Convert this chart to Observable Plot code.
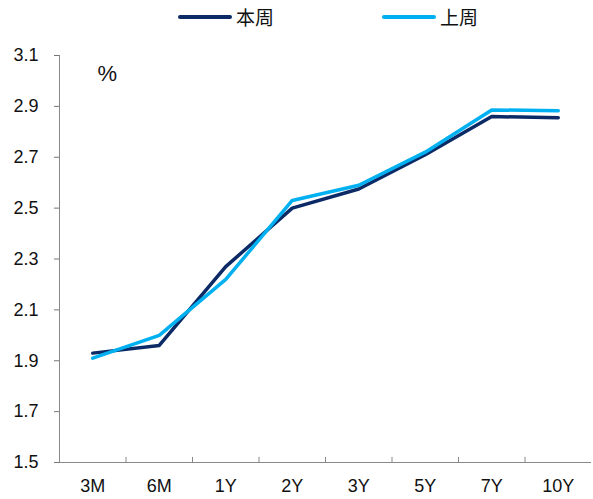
<!DOCTYPE html>
<html><head><meta charset="utf-8">
<script src="https://cdn.jsdelivr.net/npm/d3@7"></script>
<script src="https://cdn.jsdelivr.net/npm/@observablehq/plot@0.6"></script>
<style>
body{margin:0;background:#fff;font-family:"Liberation Sans",Arial,"Noto Sans CJK SC",sans-serif;}
#legend{position:relative;height:34px;width:593px;}
.sw{position:absolute;top:15px;width:54px;height:4px;border-radius:2px;}
.lb{position:absolute;top:5px;font-size:19px;color:#111;font-family:"Noto Sans CJK SC",sans-serif;line-height:24px;}
</style></head>
<body>
<div id="legend"></div>
<div id="chart"></div>
<script>
const categories = ["3M","6M","1Y","2Y","3Y","5Y","7Y","10Y"];
const thisWeek = [1.93,1.96,2.27,2.50,2.575,2.71,2.86,2.855];
const lastWeek = [1.91,2.00,2.22,2.53,2.59,2.72,2.886,2.883];
const seriesNames = ["本周","上周"];
const colors = ["#0b2a66","#00b0f0"];
const yTicks = [1.5,1.7,1.9,2.1,2.3,2.5,2.7,2.9,3.1];

const data = [];
categories.forEach((c,i)=>{
  data.push({cat:c, idx:i+0.5, v:thisWeek[i], s:seriesNames[0]});
  data.push({cat:c, idx:i+0.5, v:lastWeek[i], s:seriesNames[1]});
});
const centers = categories.map((c,i)=>i+0.5);
const bounds = d3.range(1, categories.length);

const leg = document.getElementById("legend");
const pos = [[178,236],[382,440]];
seriesNames.forEach((n,k)=>{
  const sw=document.createElement("div");sw.className="sw";sw.style.left=pos[k][0]+"px";sw.style.background=colors[k];leg.appendChild(sw);
  const lb=document.createElement("div");lb.className="lb";lb.style.left=pos[k][1]+"px";lb.textContent=n;leg.appendChild(lb);
});

const chart = Plot.plot({
  width:593, height:465,
  marginTop:21, marginBottom:37, marginLeft:59, marginRight:2,
  style:{fontFamily:"'Liberation Sans',Arial,sans-serif", fontSize:"18px", color:"#111", background:"#fff"},
  x:{type:"linear", domain:[0,categories.length]},
  y:{domain:[1.5,3.1]},
  color:{domain:seriesNames, range:colors},
  marks:[
    Plot.axisY({ticks:yTicks, tickFormat:d=>d.toFixed(1), tickSize:5, tickPadding:16, stroke:"#777", label:null, fontSize:18, fill:"#111"}),
    Plot.axisX({ticks:centers, tickFormat:d=>categories[Math.round(d-0.5)], tickSize:0, tickPadding:17, label:null, fontSize:18, fill:"#111"}),
    Plot.ruleY([1.5],{stroke:"#888"}),
    Plot.ruleX([0],{stroke:"#888"}),
    Plot.ruleX(bounds,{y1:1.5, y2:1.52, stroke:"#888"}),
    Plot.text(["%"],{frameAnchor:"top-left", dx:38, dy:10, fontSize:22, fill:"#111", textAnchor:"start"}),
    Plot.line(data,{x:"idx", y:"v", z:"s", stroke:"s", strokeWidth:3.5})
  ]
});
document.getElementById("chart").appendChild(chart);
</script>
</body></html>
